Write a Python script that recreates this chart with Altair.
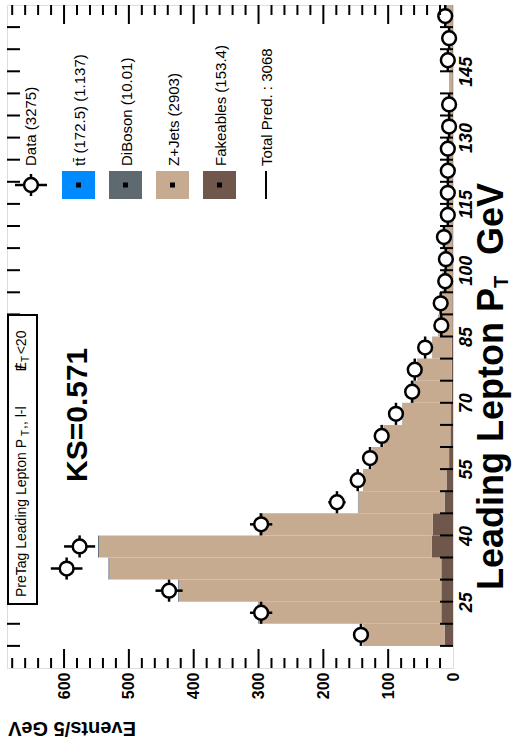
import altair as alt
import pandas as pd

# ---------------- data ----------------
bin_low = [15, 20, 25, 30, 35, 40, 45, 50, 55, 60, 65, 70, 75, 80, 85,
           90, 95, 100, 105, 110, 115, 120, 125, 130, 135, 140, 145, 150, 155]
data_counts = [142, 296, 438, 596, 576, 296, 179, 147, 128, 110, 88, 63, 59, 43, 18,
               19, 12, 11, 14, 8, 8, 8, 8, 6, 6, 0, 8, 6, 12]
fakeables = [13, 18, 18, 18, 33, 31, 13, 10, 6, 4, 3, 2, 2, 2, 1,
             1, 1, 1, 1, 1, 1, 1, 1, 1, 1, 1, 1, 1, 1]
zjets = [125, 282, 405, 512, 513, 267, 133, 128, 118, 103, 75, 63, 53, 30, 22,
         18, 15, 13, 11, 9, 8, 7, 6, 6, 5, 5, 4, 4, 11]
diboson = [0.4, 0.8, 1.1, 1.4, 1.5, 0.9, 0.5, 0.5, 0.4, 0.3, 0.3, 0.2, 0.2, 0.2, 0.1,
           0.1, 0.1, 0.1, 0.1, 0.1, 0.1, 0.1, 0.1, 0.1, 0.1, 0.1, 0.1, 0.1, 0.1]
ttbar = [0.02, 0.05, 0.08, 0.1, 0.1, 0.08, 0.08, 0.07, 0.06, 0.05, 0.05, 0.04, 0.04, 0.03, 0.03,
         0.03, 0.02, 0.02, 0.02, 0.02, 0.02, 0.02, 0.02, 0.02, 0.02, 0.02, 0.02, 0.02, 0.02]

processes = ["Fakeables", "Z+Jets", "DiBoson", "ttbar"]
proc_colors = ["#6f584b", "#c6ab91", "#5f6970", "#008aff"]
legend_labels = ["Data (3275)", "tt\u0304 (172.5) (1.137)", "DiBoson (10.01)",
                 "Z+Jets (2903)", "Fakeables (153.4)", "Total Pred. : 3068"]
event_labels = [0, 100, 200, 300, 400, 500, 600]
pt_labels = [25, 40, 55, 70, 85, 100, 115, 130, 145]

BIN = 5
W, H = 446, 663
XMAX = 688
PT_MIN, PT_MAX = 10, 160
FONT = "Liberation Sans"
NB = "\u00a0"

rows = []
for i, lo in enumerate(bin_low):
    for k, (name, vals) in enumerate(zip(processes, [fakeables, zjets, diboson, ttbar])):
        rows.append({"lo": lo, "hi": lo + BIN, "proc": name, "ord": k, "value": vals[i]})
stack_df = pd.DataFrame(rows)
data_df = pd.DataFrame({"lo": bin_low, "hi": [b + BIN for b in bin_low],
                        "c": [b + BIN / 2 for b in bin_low], "n": data_counts})

xs = alt.Scale(domain=[0, XMAX], reverse=True, nice=False, zero=False)
ys = alt.Scale(domain=[PT_MIN, PT_MAX], nice=False, zero=False)

x_axis = alt.Axis(values=event_labels, labelAngle=270, labelAlign="right", labelBaseline="middle",
                  labelPadding=4, ticks=False, domain=False, grid=False, title=None,
                  labelFont=FONT, labelFontWeight="bold", labelFontSize=16, labelColor="black",
                  labelFlush=False, labelOverlap=False, format="d")
y_axis = alt.Axis(orient="right", values=pt_labels, labelAngle=270, labelAlign="center",
                  labelBaseline="top", labelPadding=4, ticks=False, domain=False, grid=False,
                  title=None, labelFont=FONT, labelFontWeight="bold", labelFontStyle="italic",
                  labelFontSize=18, labelColor="black", labelFlush=False, labelOverlap=False,
                  format="d")

stack = alt.Chart(stack_df).transform_stack(
    stack="value", groupby=["lo"], as_=["s0", "s1"], sort=[alt.SortField("ord", order="ascending")]
).mark_rect().encode(
    x=alt.X("s0:Q", scale=xs, axis=x_axis),
    x2="s1:Q",
    y=alt.Y("lo:Q", scale=ys, axis=y_axis),
    y2="hi:Q",
    color=alt.Color("proc:N", scale=alt.Scale(domain=processes, range=proc_colors), legend=None),
)

dbase = alt.Chart(data_df).transform_filter("datum.n > 0").transform_calculate(
    elo="datum.n - sqrt(datum.n)", ehi="datum.n + sqrt(datum.n)")
err_h = dbase.mark_rule(color="black", strokeWidth=2.5).encode(
    x=alt.X("elo:Q", scale=xs), x2="ehi:Q", y=alt.Y("c:Q", scale=ys))
err_v = dbase.mark_rule(color="black", strokeWidth=2.5).encode(
    x=alt.X("n:Q", scale=xs), y=alt.Y("lo:Q", scale=ys), y2="hi:Q")
pts = dbase.mark_point(shape="circle", filled=True, fill="white", stroke="black",
                       strokeWidth=2.5, size=190, opacity=1).encode(
    x=alt.X("n:Q", scale=xs), y=alt.Y("c:Q", scale=ys))

# tick marks (inside the frame, on all four sides)
ev_major = pd.DataFrame({"v": list(range(100, 700, 100))})
ev_minor = pd.DataFrame({"v": [v for v in range(20, 688, 20) if v % 100]})
pt_ticks = pd.DataFrame({"v": list(range(15, 160, 5))})


def ev_ticks(df, length):
    bottom = alt.Chart(df).mark_rule(color="black", strokeWidth=2).encode(
        x=alt.X("v:Q", scale=xs), y=alt.value(H), y2=alt.value(H - length))
    top = alt.Chart(df).mark_rule(color="black", strokeWidth=2).encode(
        x=alt.X("v:Q", scale=xs), y=alt.value(0), y2=alt.value(length))
    return bottom + top


ticks_pt_r = alt.Chart(pt_ticks).mark_rule(color="black", strokeWidth=2).encode(
    y=alt.Y("v:Q", scale=ys), x=alt.value(W), x2=alt.value(W - 13))
ticks_pt_l = alt.Chart(pt_ticks).mark_rule(color="black", strokeWidth=2).encode(
    y=alt.Y("v:Q", scale=ys), x=alt.value(0), x2=alt.value(13))


def txt(s, x, y, size, angle=270, align="left", baseline="middle", weight="normal",
        style="normal", font=FONT):
    return alt.Chart(pd.DataFrame({"t": [s]})).mark_text(
        font=font, fontSize=size, fontWeight=weight, fontStyle=style, angle=angle,
        align=align, baseline=baseline, color="black").encode(
        x=alt.value(x), y=alt.value(y), text="t:N")


layers = [stack, err_h, err_v, pts,
          ev_ticks(ev_major, 19), ev_ticks(ev_minor, 10), ticks_pt_r, ticks_pt_l]

# title box
layers.append(alt.Chart(pd.DataFrame({"a": [0]})).mark_rect(
    fill="white", stroke="black", strokeWidth=2).encode(
    x=alt.value(1), x2=alt.value(30), y=alt.value(310), y2=alt.value(599)))
layers += [
    txt("PreTag Leading Lepton P", 15, 592, 14),
    txt("T", 19, 431, 10),
    txt(",, l-l" + NB * 9 + "E" + NB * 2 + "<20", 15, 424, 14),
    txt("/", 15, 362, 14, align="center", weight="bold"),
    txt("T", 19, 357, 10),
]

# KS
layers.append(txt("KS=0.571", 71, 477, 30, weight="bold"))

# legend
leg_x = [24, 71.5, 118.5, 165.5, 212.5, 259]
for i, lab in enumerate(legend_labels):
    layers.append(txt(lab, leg_x[i] + (1 if i else 0), 161, 15))
for i, col in enumerate(["#008aff", "#5f6970", "#c6ab91", "#6f584b"]):
    cx = leg_x[i + 1]
    layers.append(alt.Chart(pd.DataFrame({"a": [0]})).mark_rect(fill=col).encode(
        x=alt.value(cx - 16.5), x2=alt.value(cx + 16.5), y=alt.value(166), y2=alt.value(194)))
    layers.append(alt.Chart(pd.DataFrame({"a": [0]})).mark_rect(fill="black").encode(
        x=alt.value(cx - 2.5), x2=alt.value(cx + 2.5), y=alt.value(177.5), y2=alt.value(182.5)))
layers.append(alt.Chart(pd.DataFrame({"a": [0]})).mark_rule(color="black", strokeWidth=2).encode(
    x=alt.value(leg_x[5]), y=alt.value(166), y2=alt.value(194)))
layers.append(alt.Chart(pd.DataFrame({"a": [0]})).mark_rule(color="black", strokeWidth=2.5).encode(
    x=alt.value(8), x2=alt.value(40), y=alt.value(180)))
layers.append(alt.Chart(pd.DataFrame({"a": [0]})).mark_rule(color="black", strokeWidth=2.5).encode(
    x=alt.value(24), y=alt.value(169), y2=alt.value(191)))
layers.append(alt.Chart(pd.DataFrame({"a": [0]})).mark_point(
    shape="circle", filled=True, fill="white", stroke="black", strokeWidth=2.5, size=190,
    opacity=1).encode(x=alt.value(24), y=alt.value(180)))

# axis titles
layers += [
    txt("Leading Lepton P", 485, 585, 36, weight="bold"),
    txt("T", 495, 283, 20, weight="bold"),
    txt("GeV", 485, 250, 36, weight="bold"),
    txt("Events/5 GeV", 65, 723, 20, angle=180, align="center", weight="bold"),
]

chart = alt.layer(*layers).properties(
    width=W, height=H,
    padding={"left": 7, "top": 5, "right": 62, "bottom": 79},
    autosize=alt.AutoSizeParams(type="none"),
).configure_view(stroke="black", strokeWidth=3).configure(background="white")

chart.save("out.html", embed_options={"renderer": "svg", "actions": False})
